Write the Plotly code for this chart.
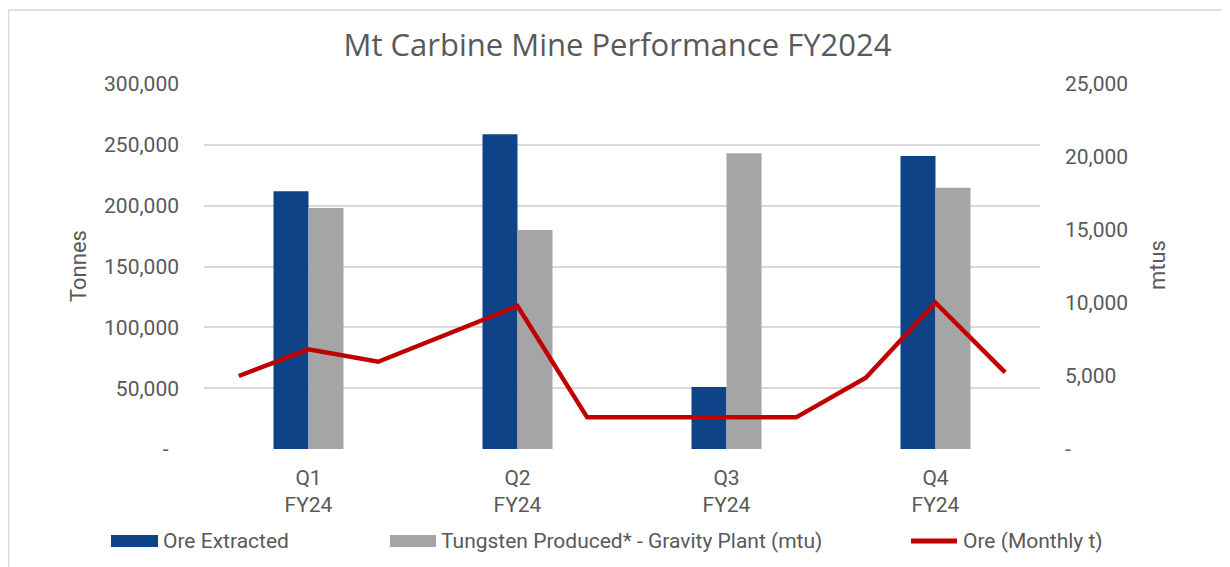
import plotly.graph_objects as go

quarters = ["Q1<br>FY24", "Q2<br>FY24", "Q3<br>FY24", "Q4<br>FY24"]
ore_extracted = [211900, 258700, 50900, 240900]          # tonnes (left axis)
tungsten_mtu = [16500, 15000, 20250, 17900]              # mtu (right axis)
ore_monthly = [60000, 81900, 71700, 94600, 117400, 26000,
               26000, 26000, 26000, 58600, 120200, 63000]  # tonnes per month

left_ticks = [0, 50000, 100000, 150000, 200000, 250000, 300000]
left_text = ["-  ", "50,000", "100,000", "150,000", "200,000", "250,000", "300,000"]
right_ticks = [0, 5000, 10000, 15000, 20000, 25000]
right_text = ["-", "5,000", "10,000", "15,000", "20,000", "25,000"]

BLUE = "#0E4487"
GRAY = "#A5A5A5"
RED = "#C00000"
TXT = "#595959"
FONT = "Roboto"

qx = list(range(len(quarters)))
mx = [i / 3 - 1 / 3 for i in range(len(ore_monthly))]

OFF = 8  # page offset of the figure inside the browser window
W, H = 1230 - OFF, 567 - OFF
L = 204 - OFF
T = 84 - OFF
R = W - (1040 - OFF)
B = H - (449 - OFF)
pw = W - L - R
ph = H - T - B

def px_x(p):
    return (p - OFF - L) / pw

def px_y(p):
    return 1 - (p - OFF - T) / ph

fig = go.Figure()
fig.add_trace(go.Bar(x=qx, y=ore_extracted, name="Ore Extracted", marker_color=BLUE,
                     offsetgroup="a", yaxis="y", marker_line_width=0))
fig.add_trace(go.Bar(x=qx, y=tungsten_mtu, name="Tungsten Produced* - Gravity Plant (mtu)",
                     marker_color=GRAY, offsetgroup="b", yaxis="y2", marker_line_width=0))
fig.add_trace(go.Scatter(x=mx, y=ore_monthly, name="Ore (Monthly t)", mode="lines",
                         line=dict(color=RED, width=4.5), yaxis="y3"))

shapes = [
    dict(type="rect", xref="paper", yref="paper", x0=px_x(8.5), x1=px_x(1226),
         y0=px_y(10), y1=px_y(620), line=dict(color="#D9D9D9", width=1.5), layer="below"),
    dict(type="rect", xref="paper", yref="paper", x0=px_x(111), x1=px_x(158),
         y0=px_y(535), y1=px_y(547), fillcolor=BLUE, line_width=0),
    dict(type="rect", xref="paper", yref="paper", x0=px_x(390), x1=px_x(436),
         y0=px_y(535), y1=px_y(547), fillcolor=GRAY, line_width=0),
    dict(type="line", xref="paper", yref="paper", x0=px_x(911), x1=px_x(957),
         y0=px_y(541), y1=px_y(541), line=dict(color=RED, width=5)),
]

annotations = [
    dict(text="Tonnes", xref="paper", yref="paper", x=px_x(78), y=px_y(266), textangle=-90,
         showarrow=False, font=dict(family=FONT, size=22, color=TXT), xanchor="center", yanchor="middle"),
    dict(text="mtus", xref="paper", yref="paper", x=px_x(1157), y=px_y(265), textangle=-90,
         showarrow=False, font=dict(family=FONT, size=22, color=TXT), xanchor="center", yanchor="middle"),
    dict(text="Ore Extracted", xref="paper", yref="paper", x=px_x(161), y=px_y(541),
         showarrow=False, font=dict(family=FONT, size=21, color=TXT), xanchor="left", yanchor="middle"),
    dict(text="Tungsten Produced* - Gravity Plant (mtu)", xref="paper", yref="paper", x=px_x(439), y=px_y(541),
         showarrow=False, font=dict(family=FONT, size=21, color=TXT), xanchor="left", yanchor="middle"),
    dict(text="Ore (Monthly t)", xref="paper", yref="paper", x=px_x(961), y=px_y(541),
         showarrow=False, font=dict(family=FONT, size=21, color=TXT), xanchor="left", yanchor="middle"),
]

fig.update_layout(
    width=W, height=H,
    margin=dict(l=L, r=R, t=T, b=B),
    paper_bgcolor="white", plot_bgcolor="white",
    barmode="group", bargap=0.665, bargroupgap=0,
    showlegend=False,
    title=dict(text="Mt Carbine Mine Performance FY2024", x=(617.5 - OFF) / W, xref="container",
               xanchor="center", y=1 - (45 - OFF) / H, yref="container", yanchor="middle",
               font=dict(family="Open Sans", size=31, color=TXT)),
    xaxis=dict(range=[-0.5, 3.5], tickvals=qx, ticktext=quarters, showgrid=False,
               zeroline=False, showline=False, ticks="", ticklabelstandoff=14,
               tickfont=dict(family=FONT, size=21, color=TXT)),
    yaxis=dict(range=[0, 300000], tickvals=left_ticks, ticktext=left_text,
               showgrid=True, gridcolor="#D9D9D9", gridwidth=1.5, zeroline=False,
               showline=False, ticks="", ticklabelstandoff=24,
               tickfont=dict(family=FONT, size=21, color=TXT)),
    yaxis2=dict(range=[0, 25000], tickvals=right_ticks, ticktext=right_text, overlaying="y",
                side="right", showgrid=False, zeroline=False, showline=False, ticks="",
                ticklabelstandoff=24, tickfont=dict(family=FONT, size=21, color=TXT)),
    yaxis3=dict(range=[0, 300000], overlaying="y", side="left", visible=False,
                showgrid=False, zeroline=False),
    shapes=shapes,
    annotations=annotations,
)

fig.write_html("out.html")
